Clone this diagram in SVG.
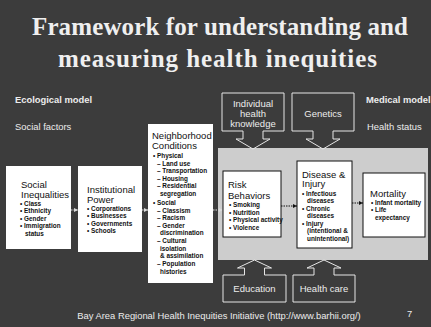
<svg xmlns="http://www.w3.org/2000/svg" width="431" height="327" viewBox="0 0 431 327">
  <defs>
    <style>
      .title{font-family:"Liberation Serif","Times New Roman",serif;font-weight:bold;font-size:25px;fill:#efefef;text-anchor:middle}
      .lbl{font-family:"Liberation Sans",Arial,sans-serif;font-size:9.4px;fill:#ececec}
      .bold{font-weight:bold}
      .box{fill:#ffffff}
      .ibox{fill:#ffffff;stroke:#111111;stroke-width:1}
      .panel{fill:#cdcdcd}
      .head{font-family:"Liberation Sans",Arial,sans-serif;font-size:9.5px;fill:#111111}
      .item{font-family:"Liberation Sans",Arial,sans-serif;font-size:6.4px;font-weight:bold;fill:#111111}
      .barrow{fill:none;stroke:#e6e6e6;stroke-width:1}
      .atext{font-family:"Liberation Sans",Arial,sans-serif;font-size:9.5px;fill:#ececec;text-anchor:middle}
      .link-dark{fill:none;stroke:#dcdcdc;stroke-width:1;stroke-dasharray:1.5 1}
      .link{fill:none;stroke:#111111;stroke-width:1;stroke-dasharray:1.5 1}
    </style>
    <marker id="tipDark" markerUnits="userSpaceOnUse" markerWidth="5" markerHeight="5" refX="4" refY="2.5" orient="auto">
      <path d="M0,0.5 L4,2.5 L0,4.5 Z" fill="#dcdcdc"/>
    </marker>
    <marker id="tip" markerUnits="userSpaceOnUse" markerWidth="5" markerHeight="5" refX="4" refY="2.5" orient="auto">
      <path d="M0,0.5 L4,2.5 L0,4.5 Z" fill="#111111"/>
    </marker>
  </defs>

  <!-- slide background -->
  <rect x="0" y="0" width="431" height="327" fill="#3c3c3c"/>

  <!-- title -->
  <text class="title" x="220" y="35" textLength="376">Framework for understanding and</text>
  <text class="title" x="217.5" y="67" textLength="319">measuring health inequities</text>

  <!-- side labels -->
  <text class="lbl bold" x="15" y="103">Ecological model</text>
  <text class="lbl" x="15" y="130">Social factors</text>
  <text class="lbl bold" x="366" y="103">Medical model</text>
  <text class="lbl" x="367" y="130">Health status</text>

  <!-- health status panel -->
  <rect class="panel" x="218" y="148" width="210" height="112"/>

  <!-- connectors -->
  <g id="connectors">
    <line class="link-dark" x1="71" y1="210" x2="78" y2="210" marker-end="url(#tipDark)"/>
    <line class="link-dark" x1="142" y1="210" x2="148" y2="210" marker-end="url(#tipDark)"/>
    <line class="link-dark" x1="213" y1="210" x2="223" y2="210" marker-end="url(#tipDark)"/>
    <line class="link" x1="281" y1="206" x2="297" y2="206" marker-end="url(#tip)"/>
    <line class="link" x1="352" y1="203" x2="363" y2="203" marker-end="url(#tip)"/>
  </g>

  <g id="social-inequalities">
    <rect class="box" x="6" y="166" width="65" height="83"/>
    <text class="head" x="21" y="188">Social</text>
    <text class="head" x="21" y="198">Inequalities</text>
    <text class="item" x="20" y="205.5">• Class</text>
    <text class="item" x="20" y="213">• Ethnicity</text>
    <text class="item" x="20" y="220.5">• Gender</text>
    <text class="item" x="20" y="228">• Immigration</text>
    <text class="item" x="25" y="235.5">status</text>
  </g>

  <g id="institutional-power">
    <rect class="box" x="78" y="166" width="64" height="86"/>
    <text class="head" x="87" y="193">Institutional</text>
    <text class="head" x="87" y="202.5">Power</text>
    <text class="item" x="87" y="210.5">• Corporations</text>
    <text class="item" x="87" y="218">• Businesses</text>
    <text class="item" x="87" y="225.5">• Governments</text>
    <text class="item" x="87" y="233">• Schools</text>
  </g>

  <g id="neighborhood-conditions">
    <rect class="box" x="148" y="124" width="65" height="159"/>
    <text class="head" x="152" y="139">Neighborhood</text>
    <text class="head" x="152" y="149">Conditions</text>
    <text class="item" x="153" y="158">• Physical</text>
    <text class="item" x="157" y="165.5">– Land use</text>
    <text class="item" x="157" y="173">– Transportation</text>
    <text class="item" x="157" y="180.5">– Housing</text>
    <text class="item" x="157" y="188">– Residential</text>
    <text class="item" x="160" y="195.5">segregation</text>
    <text class="item" x="153" y="205">• Social</text>
    <text class="item" x="157" y="212.5">– Classism</text>
    <text class="item" x="157" y="220">– Racism</text>
    <text class="item" x="157" y="227.5">– Gender</text>
    <text class="item" x="160" y="235">discrimination</text>
    <text class="item" x="157" y="243">– Cultural</text>
    <text class="item" x="160" y="250.5">isolation</text>
    <text class="item" x="160" y="258">&amp; assimilation</text>
    <text class="item" x="157" y="266">– Population</text>
    <text class="item" x="160" y="273.5">histories</text>
  </g>

  <g id="risk-behaviors">
    <rect class="ibox" x="223" y="171" width="58" height="66"/>
    <text class="head" x="228" y="188">Risk</text>
    <text class="head" x="228" y="199">Behaviors</text>
    <text class="item" x="229" y="207">• Smoking</text>
    <text class="item" x="229" y="214.5">• Nutrition</text>
    <text class="item" x="229" y="222">• Physical activity</text>
    <text class="item" x="229" y="229.5">• Violence</text>
  </g>

  <g id="disease-injury">
    <rect class="ibox" x="297" y="161" width="55" height="87"/>
    <text class="head" x="302" y="177.5">Disease &amp;</text>
    <text class="head" x="302" y="187">Injury</text>
    <text class="item" x="302" y="195.5">• Infectious</text>
    <text class="item" x="307" y="203">diseases</text>
    <text class="item" x="302" y="210.5">• Chronic</text>
    <text class="item" x="307" y="218">diseases</text>
    <text class="item" x="302" y="225.5">• Injury</text>
    <text class="item" x="307" y="233">(intentional &amp;</text>
    <text class="item" x="307" y="240.5">unintentional)</text>
  </g>

  <g id="mortality">
    <rect class="ibox" x="363" y="173" width="62" height="64"/>
    <text class="head" x="370" y="196.5">Mortality</text>
    <text class="item" x="371" y="204.5">• Infant mortality</text>
    <text class="item" x="371" y="212">• Life</text>
    <text class="item" x="375" y="219.5">expectancy</text>
  </g>

  <g id="individual-knowledge">
    <path class="barrow" d="M222,93 H284 V131 H263 V139 H270 L253,149 L236,139 H243 V131 H222 Z"/>
    <text class="atext" x="253" y="107">Individual</text>
    <text class="atext" x="253" y="117">health</text>
    <text class="atext" x="253" y="127">knowledge</text>
  </g>

  <g id="genetics">
    <path class="barrow" d="M292,93 H354 V131 H333 V139 H340 L323,149 L306,139 H313 V131 H292 Z"/>
    <text class="atext" x="323" y="117">Genetics</text>
  </g>

  <g id="education">
    <path class="barrow" d="M223,302 H286 V275 H264.5 V268 H271.5 L254.5,260 L237.5,268 H244.5 V275 H223 Z"/>
    <text class="atext" x="254.5" y="292">Education</text>
  </g>

  <g id="health-care">
    <path class="barrow" d="M293,302 H355 V275 H334 V268 H341 L324,260 L307,268 H314 V275 H293 Z"/>
    <text class="atext" x="324" y="292">Health care</text>
  </g>

  <!-- footer -->
  <text class="lbl" x="219" y="319" text-anchor="middle">Bay Area Regional Health Inequities Initiative (http://www.barhii.org/)</text>
  <text class="lbl" x="407" y="317" font-size="7">7</text>
</svg>
